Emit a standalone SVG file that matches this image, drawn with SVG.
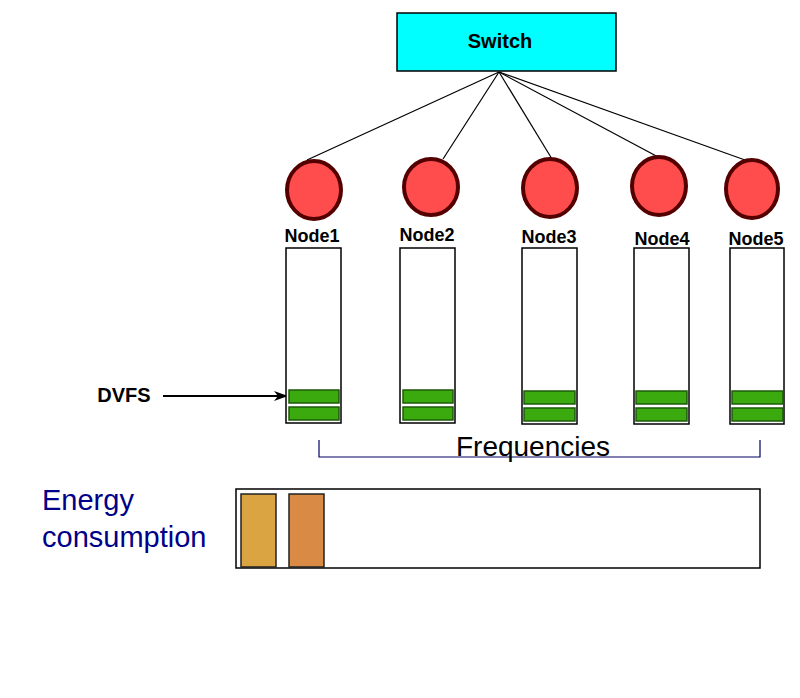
<svg xmlns="http://www.w3.org/2000/svg" width="800" height="698" viewBox="0 0 800 698">
<style>
.lbl{font-family:"Liberation Sans",Arial,sans-serif;font-weight:bold;font-size:18px;fill:#000;text-anchor:middle}
.big{font-size:20px}
.node{fill:#FF4D4D;stroke:#550000;stroke-width:4}
.col{fill:#fff;stroke:#000;stroke-width:1.5}
.g{fill:#3AAA0F;stroke:#1E5A0A;stroke-width:1.5}
.edge{stroke:#000;stroke-width:1.2;fill:none}
</style>
<defs>
<marker id="arr" markerWidth="14" markerHeight="10" refX="13" refY="5" orient="auto" markerUnits="userSpaceOnUse">
<path d="M0,0 L14,5 L0,10 L4,5 Z" fill="#000"/>
</marker>
</defs>
<rect width="800" height="698" fill="#fff"/>
<g id="connectors">
<line class="edge" x1="499" y1="72" x2="307" y2="160"/>
<line class="edge" x1="499" y1="72" x2="443" y2="159"/>
<line class="edge" x1="499" y1="72" x2="552" y2="159"/>
<line class="edge" x1="499" y1="72" x2="660" y2="158"/>
<line class="edge" x1="499" y1="72" x2="745" y2="160"/>
<line x1="163" y1="396" x2="287" y2="396" stroke="#000" stroke-width="2" marker-end="url(#arr)"/>
</g>
<g id="switch">
<rect x="397" y="13" width="219" height="58" fill="#00FFFF" stroke="#000" stroke-width="1.5"/>
<text class="lbl big" x="500" y="48">Switch</text>
</g>
<g id="node1">
<ellipse class="node" cx="314" cy="190" rx="27" ry="29"/>
<text class="lbl" x="312" y="242">Node1</text>
<rect class="col" x="286" y="248" width="55" height="175"/>
<rect class="g" x="289" y="390" width="50" height="13"/>
<rect class="g" x="289" y="407" width="50" height="13"/>
</g>
<g id="node2">
<ellipse class="node" cx="431" cy="187" rx="27" ry="28"/>
<text class="lbl" x="427" y="241">Node2</text>
<rect class="col" x="400" y="248" width="55" height="175"/>
<rect class="g" x="403" y="390" width="50" height="13"/>
<rect class="g" x="403" y="407" width="50" height="13"/>
</g>
<g id="node3">
<ellipse class="node" cx="550" cy="188" rx="27" ry="29"/>
<text class="lbl" x="549" y="243">Node3</text>
<rect class="col" x="522" y="248" width="55" height="176"/>
<rect class="g" x="524" y="391" width="51" height="13"/>
<rect class="g" x="524" y="408" width="51" height="13"/>
</g>
<g id="node4">
<ellipse class="node" cx="659" cy="186" rx="27" ry="29"/>
<text class="lbl" x="662" y="245">Node4</text>
<rect class="col" x="634" y="248" width="55" height="176"/>
<rect class="g" x="636" y="391" width="51" height="13"/>
<rect class="g" x="636" y="408" width="51" height="13"/>
</g>
<g id="node5">
<ellipse class="node" cx="752" cy="189" rx="26" ry="29"/>
<text class="lbl" x="756" y="245">Node5</text>
<rect class="col" x="730" y="248" width="54" height="176"/>
<rect class="g" x="732" y="391" width="51" height="13"/>
<rect class="g" x="732" y="408" width="51" height="13"/>
</g>
<g id="dvfs">
<text class="lbl big" x="124" y="402">DVFS</text>
</g>
<g id="frequencies">
<path d="M319,440 V457 H760 V440" fill="none" stroke="#000066" stroke-width="1.2"/>
<text x="533" y="456" font-family="'Liberation Sans',Arial,sans-serif" font-size="28" text-anchor="middle" fill="#000">Frequencies</text>
</g>
<g id="energy">
<text font-family="'Liberation Sans',Arial,sans-serif" font-size="29" fill="#000088"><tspan x="42" y="510">Energy</tspan><tspan x="42" y="547">consumption</tspan></text>
<rect x="236" y="489" width="524" height="79" fill="#fff" stroke="#000" stroke-width="1.5"/>
<rect x="241" y="494" width="35" height="73" fill="#D9A441" stroke="#222" stroke-width="1.5"/>
<rect x="289" y="494" width="35" height="73" fill="#D98A44" stroke="#222" stroke-width="1.5"/>
</g>
</svg>
